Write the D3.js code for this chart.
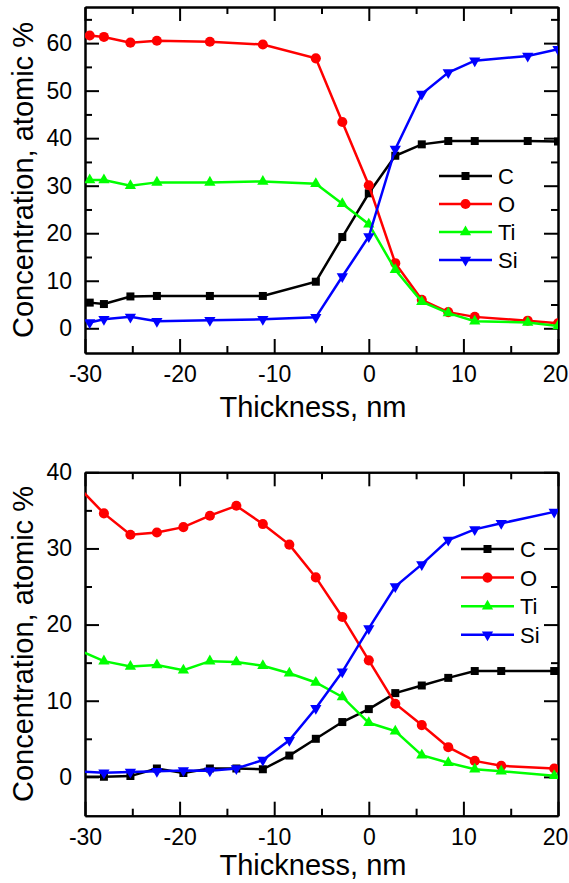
<!DOCTYPE html>
<html>
<head>
<meta charset="utf-8">
<script src="https://cdn.jsdelivr.net/npm/d3@7"></script>
<style>
  body { margin: 0; background: white; }
  svg { display: block; font-family: "Liberation Sans", Arial, Helvetica, sans-serif; }
</style>
</head>
<body>
<script>
// element names and colours
const elements = ["C", "O", "Ti", "Si"];
const colors = ["#000000", "#ff0000", "#00ff00", "#0000ff"];

// upper panel
const topX = [-29.5, -28, -25.2, -22.4, -16.8, -11.2, -5.6, -2.8, 0, 2.8, 5.6, 8.4, 11.2, 16.8, 20];
const topC = [5.4, 5.1, 6.7, 6.8, 6.8, 6.8, 9.8, 19.2, 28.4, 36.3, 38.7, 39.4, 39.4, 39.4, 39.3];
const topO = [61.6, 61.3, 60.1, 60.5, 60.3, 59.7, 56.8, 43.4, 30.1, 13.7, 6.0, 3.4, 2.4, 1.6, 1.05];
const topTi = [31.2, 31.2, 30.0, 30.7, 30.7, 30.9, 30.4, 26.2, 21.9, 12.3, 5.6, 3.2, 1.5, 1.2, 0.5];
const topSi = [1.2, 1.9, 2.4, 1.5, 1.7, 1.9, 2.3, 10.9, 19.3, 37.7, 49.3, 53.8, 56.3, 57.3, 58.7];
const topYTicks = [0, 10, 20, 30, 40, 50, 60];

// lower panel
const botX = [-30.8, -28, -25.2, -22.4, -19.6, -16.8, -14, -11.2, -8.4, -5.6, -2.8, 0, 2.8, 5.6, 8.4, 11.2, 14, 19.6];
const botC = [0, 0.0, 0.1, 1.1, 0.5, 1.1, 1.1, 1.0, 2.8, 5.0, 7.2, 8.9, 11.0, 12.0, 13.0, 13.9, 13.9, 13.9];
const botO = [38.2, 34.6, 31.8, 32.1, 32.8, 34.3, 35.6, 33.2, 30.5, 26.2, 21.0, 15.3, 9.6, 6.8, 3.9, 2.1, 1.45, 1.1];
const botTi = [16.7, 15.2, 14.5, 14.7, 14.0, 15.2, 15.1, 14.6, 13.6, 12.4, 10.5, 7.1, 6.0, 2.85, 1.85, 1.0, 0.75, 0.15];
const botSi = [0.7, 0.55, 0.65, 0.75, 0.85, 0.8, 1.1, 2.2, 4.8, 9.0, 13.8, 19.5, 25.0, 27.9, 31.1, 32.5, 33.3, 34.8];
const botYTicks = [0, 10, 20, 30, 40];

const xTicks = [-30, -20, -10, 0, 10, 20];
const xMinor = [-25, -15, -5, 5, 15];

const W = 569, H = 883;
const svg = d3.select("body").append("svg")
    .attr("width", W)
    .attr("height", H);

const symbols = [
    d3.symbol().type(d3.symbolSquare).size(64),
    d3.symbol().type(d3.symbolCircle).size(80),
    d3.symbol().type(d3.symbolTriangle).size(55),
    d3.symbol().type(d3.symbolTriangle).size(55)
];
const rotations = [0, 0, 0, 180];

// plain hyphen for negatives, like the original
const fmt = d => String(d);

function drawPanel(p, idx) {
    const left = 85, right = 558;

    const x = d3.scaleLinear().domain([-30, 20]).range([left, right]);
    const y = d3.scaleLinear().domain(p.yDomain).range([p.bottom, p.top]);

    const yMinor = p.yTicks.map(v => v + 5).filter(v => v < p.yDomain[1]);

    const g = svg.append("g");

    // clip plotting area
    g.append("clipPath").attr("id", "clip" + idx)
        .append("rect")
        .attr("x", left).attr("y", p.top)
        .attr("width", right - left).attr("height", p.bottom - p.top);

    // bottom axis with labels
    const xAxisG = g.append("g").attr("class", "axis")
        .attr("transform", `translate(0,${p.bottom})`)
        .call(d3.axisBottom(x).tickValues(xTicks).tickSize(-14).tickSizeOuter(0).tickPadding(13).tickFormat(fmt));
    // last label sits against the page edge
    xAxisG.selectAll("text").filter(d => d === 20).attr("dx", -3);

    g.append("g").attr("class", "axis minor")
        .attr("transform", `translate(0,${p.bottom})`)
        .call(d3.axisBottom(x).tickValues(xMinor).tickSize(-7).tickSizeOuter(0).tickFormat(""));

    // top axis
    g.append("g").attr("class", "axis")
        .attr("transform", `translate(0,${p.top})`)
        .call(d3.axisTop(x).tickValues(xTicks).tickSize(-14).tickSizeOuter(0).tickFormat(""));
    g.append("g").attr("class", "axis minor")
        .attr("transform", `translate(0,${p.top})`)
        .call(d3.axisTop(x).tickValues(xMinor).tickSize(-7).tickSizeOuter(0).tickFormat(""));

    // left axis with labels
    g.append("g").attr("class", "axis")
        .attr("transform", `translate(${left},0)`)
        .call(d3.axisLeft(y).tickValues(p.yTicks).tickSize(-14).tickSizeOuter(0).tickPadding(13).tickFormat(fmt));
    g.append("g").attr("class", "axis minor")
        .attr("transform", `translate(${left},0)`)
        .call(d3.axisLeft(y).tickValues(yMinor).tickSize(-7).tickSizeOuter(0).tickFormat(""));

    // right axis
    g.append("g").attr("class", "axis")
        .attr("transform", `translate(${right},0)`)
        .call(d3.axisRight(y).tickValues(p.yTicks).tickSize(-14).tickSizeOuter(0).tickFormat(""));
    g.append("g").attr("class", "axis minor")
        .attr("transform", `translate(${right},0)`)
        .call(d3.axisRight(y).tickValues(yMinor).tickSize(-7).tickSizeOuter(0).tickFormat(""));

    g.selectAll(".axis path, .axis line")
        .attr("stroke", "black")
        .attr("stroke-width", 2);
    g.selectAll(".axis text")
        .attr("fill", "black")
        .style("font-size", "23px")
        .style("font-family", "'Liberation Sans', Arial, sans-serif");

    // series
    const plot = g.append("g").attr("clip-path", `url(#clip${idx})`);
    const line = d3.line().x(d => x(d[0])).y(d => y(d[1]));

    p.series.forEach((vals, i) => {
        const pts = p.xs.map((xv, j) => [xv, vals[j]]);
        plot.append("path")
            .datum(pts)
            .attr("fill", "none")
            .attr("stroke", colors[i])
            .attr("stroke-width", 2.5)
            .attr("d", line);
        plot.selectAll(null)
            .data(pts)
            .enter()
            .append("path")
            .attr("d", symbols[i])
            .attr("fill", colors[i])
            .attr("transform", d => `translate(${x(d[0])},${y(d[1])}) rotate(${rotations[i]})`);
    });

    // legend
    elements.forEach((name, i) => {
        const ly = p.legendY + i * p.legendStep;
        g.append("line")
            .attr("x1", p.legendX).attr("x2", p.legendX + 53)
            .attr("y1", ly).attr("y2", ly)
            .attr("stroke", colors[i])
            .attr("stroke-width", 2.5);
        g.append("path")
            .attr("d", symbols[i])
            .attr("fill", colors[i])
            .attr("transform", `translate(${p.legendX + 26.5},${ly}) rotate(${rotations[i]})`);
        g.append("text")
            .attr("x", p.legendX + 59)
            .attr("y", ly)
            .attr("dy", "0.36em")
            .style("font-size", "22px")
            .text(name);
    });

    // axis titles
    g.append("text")
        .attr("x", 313)
        .attr("y", p.titleY)
        .attr("text-anchor", "middle")
        .style("font-size", "29px")
        .text("Thickness, nm");

    g.append("text")
        .attr("transform", `translate(33,${(p.top + p.bottom) / 2}) rotate(-90)`)
        .attr("text-anchor", "middle")
        .style("font-size", "29px")
        .text("Concentration, atomic %");
}

drawPanel({
    top: 7, bottom: 353, yDomain: [-5.2, 67.6], yTicks: topYTicks,
    xs: topX, series: [topC, topO, topTi, topSi],
    legendX: 439, legendY: 176, legendStep: 28, titleY: 417
}, 0);

drawPanel({
    top: 472.3, bottom: 815.7, yDomain: [-5.1, 40], yTicks: botYTicks,
    xs: botX, series: [botC, botO, botTi, botSi],
    legendX: 461, legendY: 549, legendStep: 28.6, titleY: 875
}, 1);
</script>
</body>
</html>
